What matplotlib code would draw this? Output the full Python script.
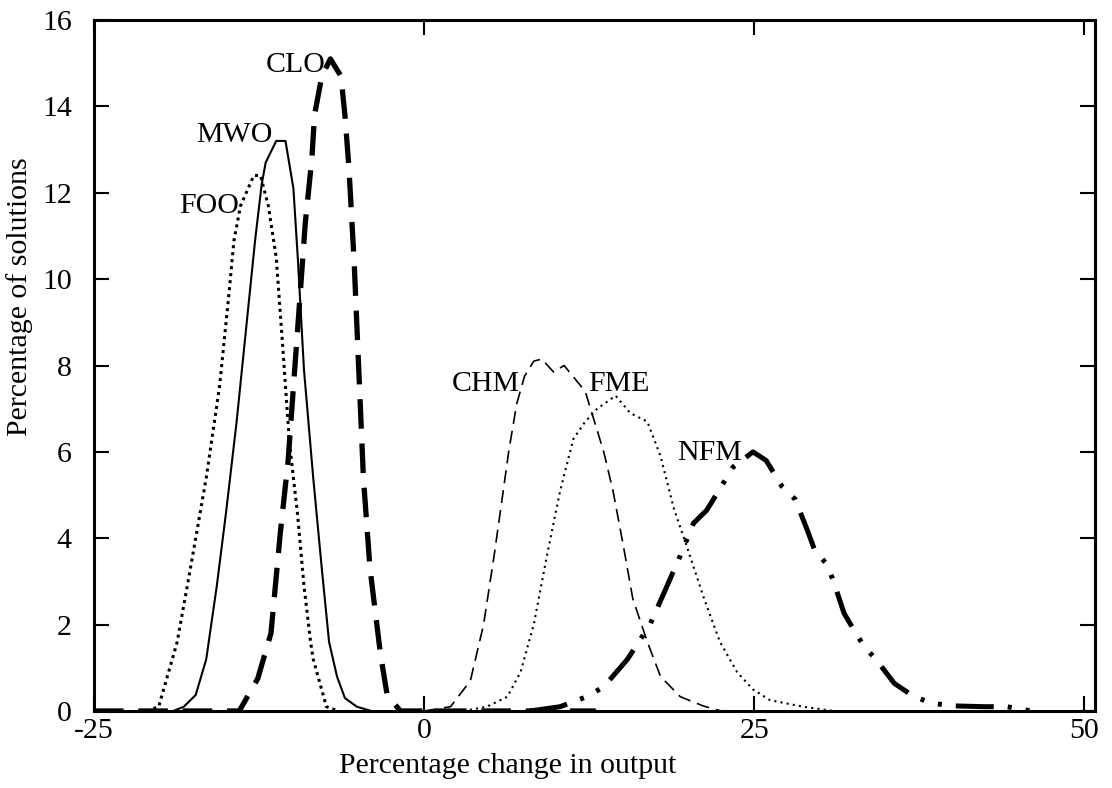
import numpy as np
import matplotlib
matplotlib.use("Agg")
import matplotlib.pyplot as plt

plt.rcParams['font.family'] = ['Liberation Serif', 'DejaVu Serif']

# ---- data (percentage change in output, % of solutions) ----
foo_x = [-21, -20.1, -18.7, -17.7, -16.5, -15.5, -14.8, -14.4, -13.9, -12.9, -12.4,
         -11.8, -11.2, -10.7, -10.2, -9.6, -9.1, -8.6, -8.4, -7.4, -6.5]
foo_y = [0, 0.1, 1.6, 3.3, 5.4, 7.5, 9.6, 10.9, 11.7, 12.4, 12.4,
         11.7, 10.5, 8.4, 6.2, 4.6, 2.9, 1.6, 1.2, 0.1, 0]

mwo_x = [-19, -18.2, -17.3, -16.5, -15.7, -15.0, -14.2, -13.5, -12.8, -12.3, -12.0,
         -11.2, -10.5, -9.9, -9.55, -9.1, -8.4, -7.75, -7.2, -6.6, -6.0, -5.1, -4]
mwo_y = [0, 0.1, 0.37, 1.2, 2.9, 4.6, 6.7, 8.8, 10.9, 12.2, 12.7,
         13.2, 13.2, 12.1, 10.4, 7.9, 5.4, 3.3, 1.6, 0.8, 0.3, 0.1, 0]

clo_x = [-25, -14.0, -12.6, -11.6, -10.9, -10.3, -9.9, -9.4, -9.0, -8.5, -8.3, -7.75,
         -7.1, -6.3, -6.0, -5.7, -5.3, -4.95, -4.6, -4.1, -3.3, -2.8, -1.8, 13]
clo_y = [0, 0, 0.75, 1.8, 4.1, 5.8, 7.5, 9.6, 11.3, 12.8, 13.8, 14.7,
         15.1, 14.7, 13.8, 12.6, 10.4, 7.9, 5.4, 3.3, 1.3, 0.37, 0, 0]

chm_x = [0, 2.0, 3.5, 4.5, 5.3, 5.9, 6.4, 7.0, 7.6, 8.3, 8.9, 9.8, 10.6, 11.4, 12.2,
         12.8, 13.6, 14.3, 15.1, 15.8, 16.9, 17.9, 19.4, 21.1, 22.5]
chm_y = [0, 0.1, 0.7, 2.0, 3.6, 4.9, 6.0, 7.1, 7.75, 8.1, 8.15, 7.85, 8.0, 7.7, 7.4,
         6.8, 6.0, 5.1, 3.8, 2.6, 1.6, 0.8, 0.33, 0.12, 0]

fme_x = [3, 4.75, 6.3, 7.3, 8.3, 9.3, 10.3, 11.3, 12.2, 13.1, 14.5, 15.6, 16.9, 17.9,
         18.9, 19.9, 21.2, 22.4, 23.7, 24.9, 26.2, 28.7, 31]
fme_y = [0, 0.1, 0.33, 0.9, 2.0, 3.6, 5.1, 6.3, 6.7, 7.0, 7.3, 6.9, 6.7, 5.9,
         4.7, 3.8, 2.6, 1.6, 0.9, 0.5, 0.25, 0.1, 0]

nfm_x = [8, 10.3, 12.3, 13.6, 15.4, 17.1, 18.4, 19.4, 20.4, 21.4, 22.2, 23.4, 24.9,
         25.9, 27.1, 28.1, 29.0, 29.6, 30.5, 31.0, 31.8, 32.5, 33.3, 34.2, 35.6,
         37.1, 38.5, 39.9, 42.4, 44.1, 46]
nfm_y = [0, 0.1, 0.33, 0.56, 1.2, 2.0, 2.9, 3.6, 4.35, 4.65, 5.05, 5.65, 6.0,
         5.8, 5.2, 4.9, 4.2, 3.7, 3.4, 3.0, 2.26, 1.9, 1.5, 1.2, 0.64,
         0.33, 0.18, 0.12, 0.1, 0.1, 0]

x_ticks = [-25, 0, 25, 50]
y_ticks = [0, 2, 4, 6, 8, 10, 12, 14, 16]

fig = plt.figure(figsize=(11.12, 7.88), dpi=100)
ax = fig.add_axes([94 / 1112, 77 / 788, 1001 / 1112, 691 / 788])

ax.plot(foo_x, foo_y, color='black', lw=2.2, linestyle=(0, (1, 1.3)))
ax.plot(mwo_x, mwo_y, color='black', lw=1.5, linestyle='-')
ax.plot(clo_x, clo_y, color='black', lw=3.8, linestyle=(0, (5.6, 2.8)))
ax.plot(chm_x, chm_y, color='black', lw=1.2, linestyle=(0, (7.8, 4.2)))
ax.plot(fme_x, fme_y, color='black', lw=1.5, linestyle=(0, (1, 2)))
ax.plot(nfm_x, nfm_y, color='black', lw=3.6,
        linestyle=(0, (7.6, 2.8, 0.8, 2.8, 0.8, 2.8)))

fs = 21.5
ax.text(-7.45, 14.95, 'CLO', ha='right', va='center', fontsize=fs)
ax.text(-11.5, 13.33, 'MWO', ha='right', va='center', fontsize=fs)
ax.text(-14.05, 11.7, 'FOO', ha='right', va='center', fontsize=fs)
ax.text(7.27, 7.58, 'CHM', ha='right', va='center', fontsize=fs)
ax.text(17.1, 7.58, 'FME', ha='right', va='center', fontsize=fs)
ax.text(24.07, 5.97, 'NFM', ha='right', va='center', fontsize=fs)

ax.set_xlim(-25, 50.8)
ax.set_ylim(0, 16)
ax.set_xticks(x_ticks)
ax.set_yticks(y_ticks)
ax.set_xticklabels([str(v) for v in x_ticks])
ax.set_yticklabels([str(v) for v in y_ticks])

ax.tick_params(axis='both', direction='in', length=11, width=1.5,
               labelsize=fs, top=True, right=True)
ax.tick_params(axis='x', pad=5)
ax.tick_params(axis='y', pad=16)
for sp in ax.spines.values():
    sp.set_linewidth(2.2)

ax.set_xlabel('Percentage change in output', fontsize=fs)
ax.set_ylabel('Percentage of solutions', fontsize=fs)
ax.xaxis.set_label_coords(0.413, -0.061)
ax.yaxis.set_label_coords(-0.061, 0.6)

fig.savefig('out.png', dpi=100)
